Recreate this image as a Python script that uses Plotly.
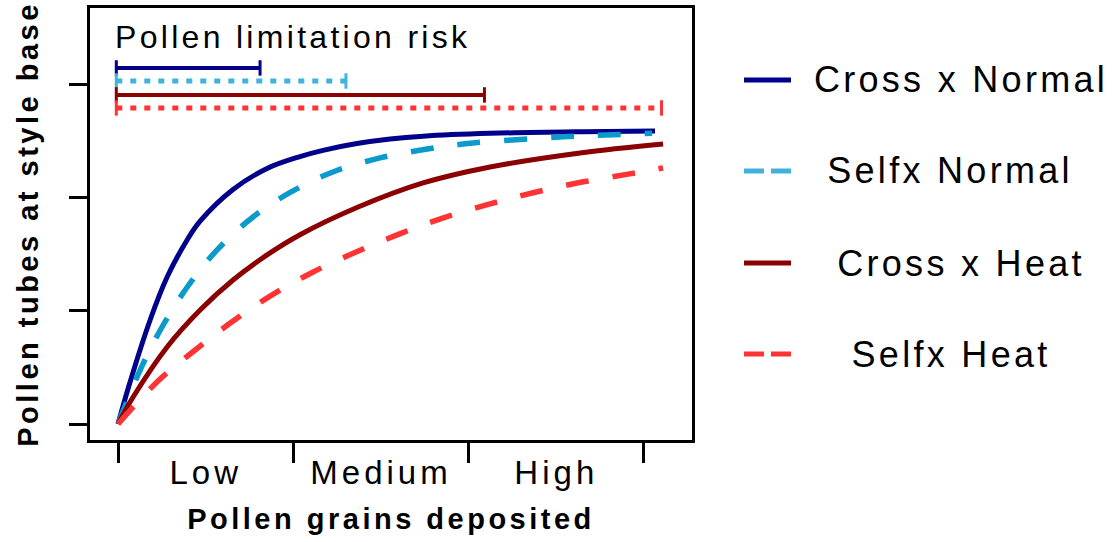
import plotly.graph_objects as go

# ---------------- data ----------------
series_names = ["Cross x Normal", "Selfx Normal", "Cross x Heat", "Selfx Heat"]

cross_normal_x = [0, 0.06, 0.183, 0.28, 0.394, 0.468, 0.656, 0.85, 1.038, 1.169, 1.363, 1.552, 1.74, 2.122, 2.65, 3.063]
cross_normal_y = [0, 0.327, 0.918, 1.297, 1.624, 1.79, 2.07, 2.255, 2.36, 2.415, 2.475, 2.515, 2.54, 2.565, 2.58, 2.586]

self_normal_x = [0, 0.131, 0.251, 0.399, 0.565, 0.77, 0.987, 1.226, 1.495, 1.763, 2.025, 2.424, 2.693, 3.046]
self_normal_y = [0, 0.494, 0.856, 1.218, 1.536, 1.827, 2.048, 2.224, 2.348, 2.427, 2.48, 2.524, 2.545, 2.565]

cross_heat_x = [0, 0.086, 0.28, 0.468, 0.656, 0.85, 1.038, 1.363, 1.74, 2.122, 2.636, 3.109]
cross_heat_y = [0, 0.238, 0.68, 1.006, 1.271, 1.492, 1.67, 1.91, 2.127, 2.268, 2.392, 2.471]

self_heat_x = [0, 0.234, 0.44, 0.656, 0.879, 1.113, 1.358, 1.603, 1.86, 2.122, 2.379, 2.647, 2.909, 3.109]
self_heat_y = [0, 0.388, 0.653, 0.909, 1.139, 1.342, 1.518, 1.676, 1.822, 1.942, 2.045, 2.135, 2.205, 2.259]

# "Pollen limitation risk" extents (start, end on x) and their level on y
risk_start = [0, 0, 0, 0]
risk_end = [0.81, 1.30, 2.09, 3.10]
risk_level = [3.142, 3.027, 2.904, 2.789]

x_categories = ["Low", "Medium", "High"]
x_tick_marks = [0, 1, 2, 3]
y_tick_marks = [0, 1, 2, 3]

# ---------------- styles ----------------
curve_colors = ["#00008B", "#0A9ACB", "#8B0000", "#FF3333"]
soft_colors = ["#00008B", "#3FB3DB", "#8B0000", "#FF3333"]
curve_dash = ["solid", "23px,24px", "solid", "23px,24px"]
curve_width = [5, 5.5, 5, 5.5]
risk_dash = ["solid", "6px,8px", "solid", "6px,8px"]
risk_width = [4, 5, 4, 5]
FONT = "Arial, Liberation Sans, sans-serif"

fig = go.Figure()

curves = [(cross_normal_x, cross_normal_y), (self_normal_x, self_normal_y),
          (cross_heat_x, cross_heat_y), (self_heat_x, self_heat_y)]
for i, (xs, ys) in enumerate(curves):
    fig.add_trace(go.Scatter(
        x=xs, y=ys, mode="lines", name=series_names[i], showlegend=False,
        line=dict(color=curve_colors[i], width=curve_width[i],
                  dash=curve_dash[i], shape="spline", smoothing=1.0),
        hoverinfo="skip"))

for i in range(4):
    fig.add_trace(go.Scatter(
        x=[risk_start[i] - 0.01, risk_end[i]], y=[risk_level[i], risk_level[i]],
        mode="lines+markers", showlegend=False, hoverinfo="skip",
        line=dict(color=soft_colors[i], width=risk_width[i], dash=risk_dash[i]),
        marker=dict(symbol="line-ns", size=11,
                    line=dict(color=soft_colors[i], width=3))))

tick_pos = [i + 0.5 for i in range(len(x_categories))]

fig.update_layout(
    width=1116, height=542,
    margin=dict(l=90, r=424, t=8, b=102),
    paper_bgcolor="white", plot_bgcolor="white",
    font=dict(family=FONT, color="black"),
    xaxis=dict(
        range=[-0.16, 3.274], showgrid=False, zeroline=False,
        showline=True, mirror=True, linecolor="black", linewidth=3,
        tickmode="array", tickvals=tick_pos, ticktext=x_categories,
        ticks="", ticklabelstandoff=1,
        tickfont=dict(family=FONT, size=33, color="black"),
        minor=dict(tickmode="array", tickvals=x_tick_marks, ticks="outside",
                   ticklen=20, tickwidth=3, tickcolor="black", showgrid=False),
        title=dict(text="<b>Pollen grains deposited</b>", standoff=20,
                   font=dict(family=FONT, size=29, color="black")),
        automargin=False,
    ),
    yaxis=dict(
        range=[-0.141, 3.671], showgrid=False, zeroline=False,
        showline=True, mirror=True, linecolor="black", linewidth=3,
        tickmode="array", tickvals=y_tick_marks, showticklabels=False,
        ticks="outside", ticklen=18, tickwidth=3, tickcolor="black",
        title=dict(text="<b>Pollen tubes at style base</b>", standoff=22,
                   font=dict(family=FONT, size=29, color="black")),
        automargin=False,
    ),
)

def px_x(p):
    return (p - 90) / 602.0

def px_y(p):
    return (440 - p) / 432.0

fig.add_annotation(text="Pollen limitation risk", xref="paper", yref="paper",
                   x=px_x(113), y=px_y(37), xanchor="left", yanchor="middle",
                   align="left", showarrow=False,
                   font=dict(family=FONT, size=32, color="black"))

legend_y = [80, 171, 263, 354]
legend_cx = [961, 950, 961, 951]
legend_dash = ["solid", "20px,7px", "solid", "20px,7px"]
for i in range(4):
    fig.add_shape(type="line", xref="paper", yref="paper",
                  x0=px_x(744), x1=px_x(791), y0=px_y(legend_y[i]), y1=px_y(legend_y[i]),
                  line=dict(color=soft_colors[i], width=5, dash=legend_dash[i]))
    fig.add_annotation(text=series_names[i], xref="paper", yref="paper",
                       x=px_x(legend_cx[i]), y=px_y(legend_y[i]),
                       xanchor="center", yanchor="middle", showarrow=False,
                       font=dict(family=FONT, size=36, color="black"))

page_css = ("body{margin:0;padding:0}"
            " .xtick text{letter-spacing:4px}"
            " .xtitle,.ytitle{letter-spacing:3.5px}"
            " .annotation-text{letter-spacing:3.3px}")
post = ("var s=document.createElement('style');s.textContent='" + page_css +
        "';document.head.appendChild(s);")

fig.write_html("out.html", post_script=post, config={"displayModeBar": False})
